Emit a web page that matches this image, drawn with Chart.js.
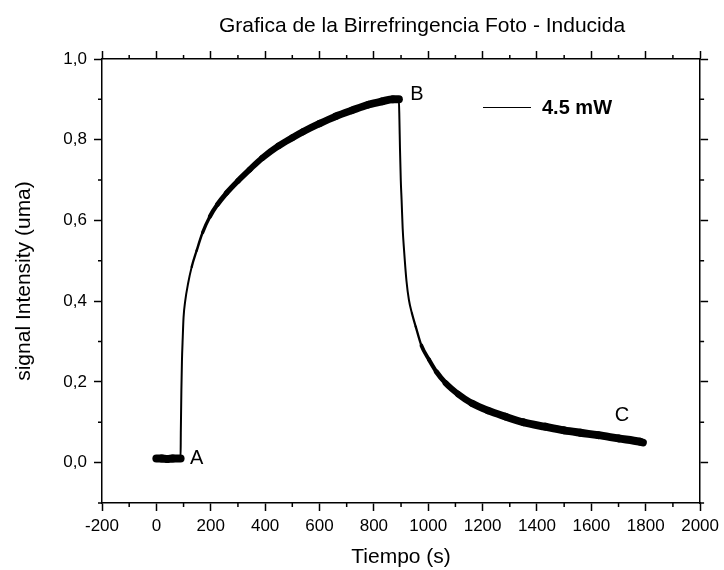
<!DOCTYPE html>
<html>
<head>
<meta charset="utf-8">
<script src="https://cdn.jsdelivr.net/npm/chart.js@4.4.1/dist/chart.umd.min.js"></script>
<style>
  html, body { margin: 0; padding: 0; background: #fff; }
  #wrap { width: 724px; height: 570px; position: relative; }
</style>
</head>
<body>
<div id="wrap"><canvas id="birrefringencia"></canvas></div>
<script>
// datos
const timeS = [0, 20, 40, 60, 80, 89, 90, 92, 94, 97, 100, 106, 117, 130, 148, 170, 197, 225, 258, 300,
    343, 390, 450, 500, 540, 600, 660, 720, 780, 830, 870, 892, 894, 896, 899, 902, 906, 911, 920, 929,
    940, 954, 975, 1003, 1030, 1064, 1110, 1161, 1220, 1284, 1350, 1430, 1500, 1560, 1625, 1700, 1778, 1790];
const signal = [0.010, 0.010, 0.009, 0.010, 0.010, 0.010, 0.08, 0.18, 0.25, 0.31, 0.36, 0.40, 0.445, 0.485, 0.525, 0.57, 0.61, 0.64, 0.668, 0.698,
    0.726, 0.755, 0.785, 0.805, 0.82, 0.84, 0.858, 0.873, 0.887, 0.895, 0.90, 0.90, 0.85, 0.78, 0.70, 0.651, 0.58, 0.527, 0.45, 0.403,
    0.37, 0.337, 0.29, 0.255, 0.225, 0.197, 0.17, 0.147, 0.129, 0.114, 0.10, 0.089, 0.08, 0.074, 0.068, 0.06, 0.052, 0.05];
const seriesLabel = '4.5 mW';

const xTicks = [-200, 0, 200, 400, 600, 800, 1000, 1200, 1400, 1600, 1800, 2000];
const xMinor = [-100, 100, 300, 500, 700, 900, 1100, 1300, 1500, 1700, 1900];
const yTicks = [0.0, 0.2, 0.4, 0.6, 0.8, 1.0];
const yMinor = [-0.1, 0.1, 0.3, 0.5, 0.7, 0.9];

const markText = ['A', 'B', 'C'];
const markTime = [148, 958, 1713];
const markSignal = [0.011, 0.911, 0.118];

Chart.defaults.font.family = '"Liberation Sans", Arial, sans-serif';
Chart.defaults.color = '#000';

const black = '#000';
const frame = 1.5;

function axisGrid() {
    return { drawOnChartArea: false, drawTicks: true, tickLength: 8, tickColor: black, tickWidth: frame };
}

const decor = {
    id: 'decor',
    afterDraw(chart) {
        const c = chart.ctx;
        const a = chart.chartArea;
        const x = chart.scales.x, y = chart.scales.y;
        c.save();
        c.strokeStyle = black;
        c.lineWidth = frame;
        c.beginPath();
        xMinor.forEach(v => {
            const px = x.getPixelForValue(v);
            c.moveTo(px, a.bottom); c.lineTo(px, a.bottom + 4);
            c.moveTo(px, a.top); c.lineTo(px, a.top - 4);
        });
        yMinor.forEach(v => {
            const py = y.getPixelForValue(v);
            c.moveTo(a.left, py); c.lineTo(a.left - 4, py);
            c.moveTo(a.right, py); c.lineTo(a.right + 4, py);
        });
        c.stroke();

        // titulo
        c.fillStyle = black;
        c.font = '21px "Liberation Sans", Arial, sans-serif';
        c.textAlign = 'center';
        c.textBaseline = 'alphabetic';
        c.fillText('Grafica de la Birrefringencia Foto - Inducida', 422, 32);

        // letras A B C
        c.font = '20px "Liberation Sans", Arial, sans-serif';
        c.textBaseline = 'middle';
        markText.forEach((t, i) => {
            c.fillText(t, x.getPixelForValue(markTime[i]), y.getPixelForValue(markSignal[i]));
        });

        // leyenda
        c.lineWidth = 1;
        c.beginPath();
        c.moveTo(483, 107.5); c.lineTo(531, 107.5);
        c.stroke();
        c.font = 'bold 20px "Liberation Sans", Arial, sans-serif';
        c.textAlign = 'left';
        c.fillText(chart.data.datasets[0].label, 542, 108);
        c.restore();
    }
};

new Chart(document.getElementById('birrefringencia'), {
    type: 'line',
    data: {
        datasets: [{
            label: seriesLabel,
            data: timeS.map((t, i) => ({ x: t, y: signal[i] })),
            borderColor: black,
            borderCapStyle: 'round',
            borderJoinStyle: 'round',
            pointRadius: 0,
            cubicInterpolationMode: 'monotone',
            segment: {
                // el ruido hace la traza gruesa donde es plana y fina donde es vertical
                borderWidth: ctx => {
                    const dx = ctx.p1.x - ctx.p0.x, dy = ctx.p1.y - ctx.p0.y;
                    const len = Math.hypot(dx, dy) || 1;
                    return Math.max(2, 8 * Math.abs(dx) / len);
                }
            }
        }]
    },
    options: {
        responsive: true,
        maintainAspectRatio: false,
        animation: false,
        layout: { padding: { left: 0, right: 22, top: 59, bottom: 0 } },
        plugins: {
            legend: { display: false },
            tooltip: { enabled: false }
        },
        scales: {
            x: {
                type: 'linear',
                position: 'bottom',
                min: -200,
                max: 2000,
                afterBuildTicks: s => { s.ticks = xTicks.map(v => ({ value: v })); },
                afterFit: s => { s.height = 67; },
                ticks: { font: { size: 17 }, padding: 5, maxRotation: 0, autoSkip: false, callback: v => String(v) },
                grid: axisGrid(),
                border: { color: black, width: frame },
                title: { display: true, text: 'Tiempo (s)', font: { size: 21 }, padding: { top: 0, bottom: 0 } }
            },
            y: {
                type: 'linear',
                position: 'left',
                min: -0.1,
                max: 1.0,
                afterBuildTicks: s => { s.ticks = yTicks.map(v => ({ value: v })); },
                afterFit: s => { s.width = 102; },
                ticks: {
                    font: { size: 17 },
                    padding: 7,
                    callback: v => v.toFixed(1).replace('.', ',')
                },
                grid: axisGrid(),
                border: { color: black, width: frame },
                title: { display: true, text: 'signal Intensity (uma)', font: { size: 21 }, padding: { top: 12, bottom: 0 } }
            },
            xTop: {
                type: 'linear',
                position: 'top',
                min: -200,
                max: 2000,
                afterBuildTicks: s => { s.ticks = xTicks.map(v => ({ value: v })); },
                afterFit: s => { s.height = 0; },
                ticks: { display: false },
                grid: axisGrid(),
                border: { color: black, width: frame }
            },
            yRight: {
                type: 'linear',
                position: 'right',
                min: -0.1,
                max: 1.0,
                afterBuildTicks: s => { s.ticks = yTicks.map(v => ({ value: v })); },
                afterFit: s => { s.width = 0; },
                ticks: { display: false },
                grid: axisGrid(),
                border: { color: black, width: frame }
            }
        }
    },
    plugins: [decor]
});
</script>
</body>
</html>
